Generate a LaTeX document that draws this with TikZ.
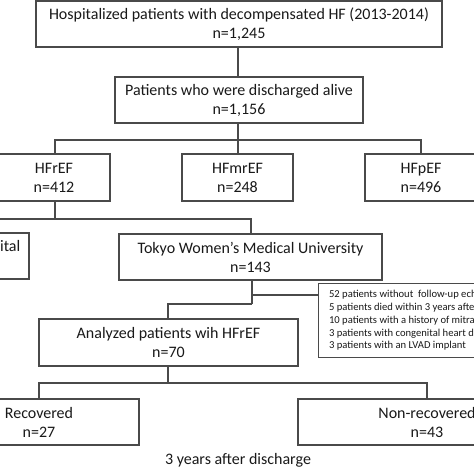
\documentclass[tikz,border=0pt]{standalone}
\usepackage{fontspec}
\setmainfont{Carlito}
\begin{document}
\begin{tikzpicture}[x=1pt,y=-1pt,
  box/.style={draw=linegray,line width=1.1pt,inner sep=0pt,align=center,text=black!90,
     font=\fontsize{16}{19}\selectfont},
  small/.style={draw=linegray,line width=1.2pt,inner sep=0pt,align=left,text=black!90,
     font=\fontsize{10.6}{12.7}\selectfont,anchor=north west},
  conn/.style={draw=linegray,line width=1.1pt}]
\definecolor{linegray}{HTML}{4A4A4A}
\useasboundingbox (0,0) rectangle (474,474);
\clip (0,0) rectangle (474,474);
\fill[white] (0,0) rectangle (474,474);
% boxes
\node[box,minimum width=406pt,minimum height=46pt] (top) at (239,24) {Hospitalized patients with decompensated HF (2013-2014)\\n=1,245};
\node[box,minimum width=248pt,minimum height=46pt] (dis) at (239,100) {Patients who were discharged alive\\n=1,156};
\node[box,minimum width=112pt,minimum height=47pt] (hfr) at (54,177.5) {HFrEF\\n=412};
\node[box,minimum width=111pt,minimum height=47pt] (hfm) at (237.5,177.5) {HFmrEF\\n=248};
\node[box,minimum width=112pt,minimum height=47pt] (hfp) at (421,177.5) {HFpEF\\n=496};
\node[box,minimum width=120pt,minimum height=46pt] (hosp) at (-31,256) {};
\node[font=\fontsize{16}{19}\selectfont,text=black!90,inner sep=0pt,anchor=east] (hospt) at (20.5,247) {Hospital};
\node[box,minimum width=263pt,minimum height=46pt] (tokyo) at (250.5,257) {Tokyo Women’s Medical University\\n=143};
\node[box,minimum width=259pt,minimum height=47pt] (ana) at (168.5,342.5) {Analyzed patients wih HFrEF\\n=70};
\node[box,minimum width=200pt,minimum height=46pt] (rec) at (39,422) {Recovered\\n=27};
\node[box,minimum width=258pt,minimum height=46pt] (nonrec) at (427,422) {Non-recovered\\n=43};
\node[small,minimum width=230pt,minimum height=73pt,inner xsep=6pt,inner ysep=7pt] (excl) at (318,283) {52 patients without\ \ follow-up echocardiography\\5 patients died within 3 years after discharge\\10 patients with a history of mitral valve surgery\\3 patients with congenital heart disease\\3 patients with an LVAD implant};
\node[font=\fontsize{16}{19}\selectfont,text=black!90,inner sep=0pt] (foot) at (238,460) {3 years after discharge};
% junctions
\coordinate (j1) at (238,140);
\coordinate (j2) at (55,219);
\coordinate (j3) at (252,295);
\coordinate (j4) at (252,304);
\coordinate (j5) at (168,383);
% connectors
\draw[conn] (top.south -| j1) -- (dis.north -| j1);
\draw[conn] (dis.south -| j1) -- (j1);
\draw[conn] (hfr.north -| j2) |- (j1) -| (hfp.north);
\draw[conn] (j1) -- (hfm.north -| j1);
\draw[conn] (hfr.south -| j2) -- (j2);
\draw[conn] (hosp.north) |- (j2) -| (tokyo.north -| 251,0);
\draw[conn] (tokyo.south -| j3) -- (j4);
\draw[conn] (j3) -- (excl.west |- j3);
\draw[conn] (j4) -| (ana.north -| j5);
\draw[conn] (ana.south -| j5) -- (j5);
\draw[conn] (rec.north) |- (j5) -| (nonrec.north);
\end{tikzpicture}
\end{document}
